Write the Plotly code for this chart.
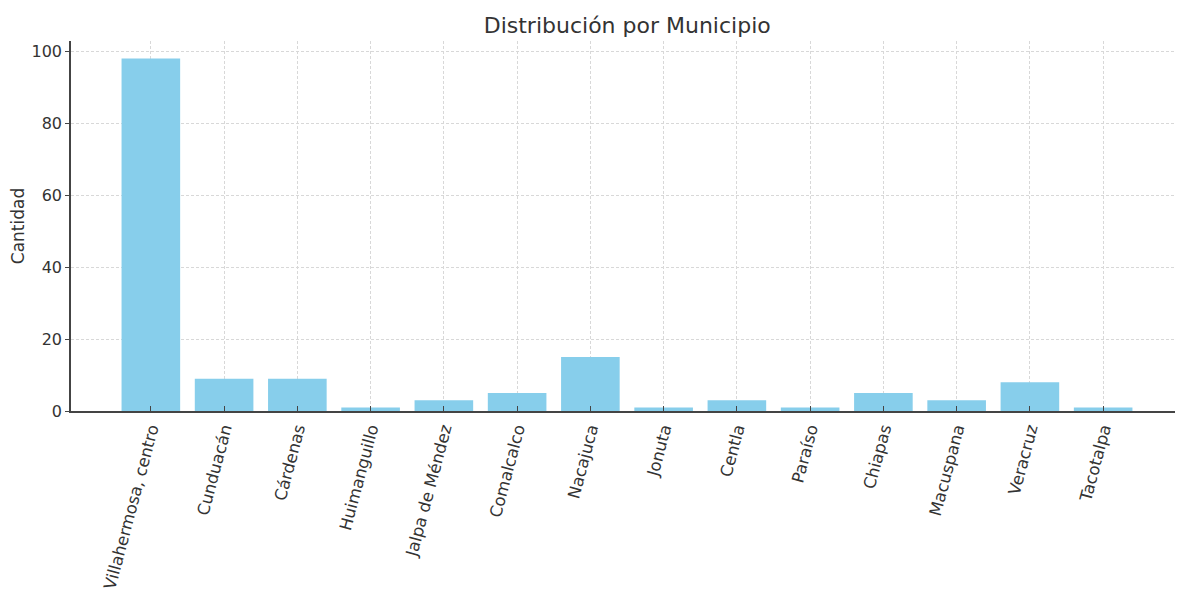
import plotly.graph_objects as go

municipios = ["Villahermosa, centro", "Cunduacán", "Cárdenas", "Huimanguillo",
              "Jalpa de Méndez", "Comalcalco", "Nacajuca", "Jonuta", "Centla",
              "Paraíso", "Chiapas", "Macuspana", "Veracruz", "Tacotalpa"]
cantidad = [98, 9, 9, 1, 3, 5, 15, 1, 3, 1, 5, 3, 8, 1]
y_ticks = [0, 20, 40, 60, 80, 100]

fig = go.Figure(go.Bar(
    x=municipios, y=cantidad, width=0.8,
    marker=dict(color="#87CEEB", line=dict(width=0)),
))

font = "DejaVu Sans"
fig.update_layout(
    width=1175, height=585,
    margin=dict(l=63, r=0, t=33, b=182),
    paper_bgcolor="white", plot_bgcolor="white",
    font=dict(family=font, size=16, color="#333333"),
    title=dict(text="Distribución por Municipio", x=0.527, xanchor="center",
               xref="container", y=1 - 17 / 585, yanchor="middle",
               font=dict(family=font, size=22, color="#333333")),
    showlegend=False,
    bargap=0.2,
)
fig.update_xaxes(
    type="category", range=[-1.09, 14.09], automargin=False,
    tickangle=-75, tickfont=dict(family=font, size=16.5, color="#333333"),
    showgrid=True, gridcolor="#d8d8d8", griddash="3px,2px", gridwidth=0.8,
    showline=True, linecolor="#444444", linewidth=1.5,
    ticks="inside", ticklen=5, tickcolor="#444444", tickwidth=1.2,
)
fig.update_yaxes(
    range=[0, 102.9], tickvals=y_ticks, automargin=False,
    tickfont=dict(family=font, size=16, color="#333333"),
    title=dict(text="Cantidad", font=dict(family=font, size=17, color="#333333"), standoff=14),
    showgrid=True, gridcolor="#d8d8d8", griddash="3px,2px", gridwidth=0.8,
    zeroline=False,
    showline=True, linecolor="#444444", linewidth=1.5,
    ticks="outside", ticklen=4, tickcolor="#444444", tickwidth=1.2,
)

fig.write_html("out.html")
